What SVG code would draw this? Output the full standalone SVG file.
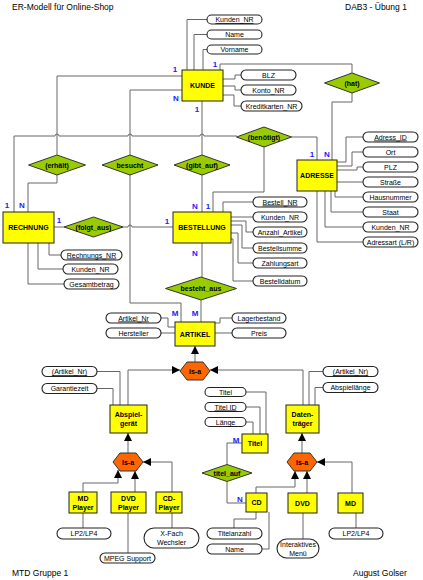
<svg xmlns="http://www.w3.org/2000/svg" width="423" height="580" viewBox="0 0 423 580">
<style>
text{font-family:"Liberation Sans",Arial,sans-serif;font-size:7px;fill:#000;text-anchor:middle}
.hd{font-size:8.5px;text-anchor:start}
.b{font-weight:bold}
.u{text-decoration:underline}
.card{font-weight:bold;font-size:8px;fill:#1a1aff}
.ent{fill:#ffff00;stroke:#222;stroke-width:1}
.rel{fill:#99cc00;stroke:#333;stroke-width:1}
.isa{fill:#ff6600;stroke:#333;stroke-width:1}
.att{fill:#fff;stroke:#222;stroke-width:1.1}
#connectors path{fill:none;stroke:#666;stroke-width:1}
</style>
<defs>
<marker id="ar" markerUnits="userSpaceOnUse" markerWidth="8" markerHeight="8" refX="8" refY="4" orient="auto"><path d="M0,0L8,4L0,8z" fill="#000"/></marker>
</defs>
<rect width="423" height="580" fill="#fff"/>
<text class="hd" x="12" y="10">ER-Modell für Online-Shop</text>
<text class="hd" x="345" y="10">DAB3 - Übung 1</text>
<text class="hd" x="12" y="576">MTD Gruppe 1</text>
<text class="hd" x="353" y="576">August Golser</text>

<g id="connectors">
<path d="M182,76H57V155"/>
<path d="M182,90H130V155"/>
<path d="M202,101V155"/>
<path d="M220,70V64H352V73"/>
<path d="M352,93V102H332V160"/>
<path d="M14,212V136H55a2,2 0 0 1 4,0H128a2,2 0 0 1 4,0H200a2,2 0 0 1 4,0H237"/>
<path d="M291,137H317V160"/>
<path d="M264,147V192H213V212"/>
<path d="M57,175V183H28V212"/>
<path d="M54,227H64"/>
<path d="M123,227H128a2,2 0 0 1 4,0H173"/>
<path d="M130,175V303H181V322"/>
<path d="M202,175V212"/>
<path d="M202,243V277"/>
<path d="M201,300V322"/>
<path d="M227,465V443H242"/>
<path d="M227,482V503H246"/>
<path d="M195,362V346" marker-end="url(#ar)"/>
<path d="M128,405V370H180" marker-end="url(#ar)"/>
<path d="M303,405V370H210" marker-end="url(#ar)"/>
<path d="M128,453V433" marker-end="url(#ar)"/>
<path d="M302,453V433" marker-end="url(#ar)"/>
<path d="M83,492V483H118V470" marker-end="url(#ar)"/>
<path d="M135,492V471" marker-end="url(#ar)"/>
<path d="M172,492V462H143" marker-end="url(#ar)"/>
<path d="M256,493V487H295V471" marker-end="url(#ar)"/>
<path d="M307,493V471" marker-end="url(#ar)"/>
<path d="M352,493V462H317" marker-end="url(#ar)"/>
<path d="M207,19.5H187V70"/>
<path d="M207,34.5H194V70"/>
<path d="M207,49.5H203V70"/>
<path d="M223,79H235V75H241"/>
<path d="M223,86H235V90H241"/>
<path d="M223,95H234V106H241"/>
<path d="M49,243V255H61"/>
<path d="M38,243V269H63"/>
<path d="M28,243V284H64"/>
<path d="M223,212V202H253"/>
<path d="M231,217H253"/>
<path d="M231,221H246V232H253"/>
<path d="M231,225H242V248H253"/>
<path d="M231,233H238V263H253"/>
<path d="M231,239H233V281H253"/>
<path d="M337,162H346V137H363"/>
<path d="M337,166H352V152H363"/>
<path d="M337,170H357V167H363"/>
<path d="M337,182H363"/>
<path d="M335,191V197H363"/>
<path d="M331,191V212H363"/>
<path d="M325,191V227H363"/>
<path d="M317,191V242H363"/>
<path d="M161,318H168V327H175"/>
<path d="M161,333H175"/>
<path d="M215,323H220V318H232"/>
<path d="M215,333H232"/>
<path d="M97,371.5H120V405"/>
<path d="M97,388.5H113V405"/>
<path d="M323,371.5H309V405"/>
<path d="M323,387.5H315V405"/>
<path d="M246,392H266V434"/>
<path d="M246,407H260V434"/>
<path d="M246,422H253V434"/>
<path d="M83,513V528"/>
<path d="M128,513V553"/>
<path d="M172,513V528"/>
<path d="M256,512V519H234V528"/>
<path d="M262,549H269V512"/>
<path d="M303,513V539"/>
<path d="M356,513V528"/>
</g>

<g id="cardinalities">
<text class="card" x="175" y="72">1</text>
<text class="card" x="215" y="67">1</text>
<text class="card" x="176" y="101">N</text>
<text class="card" x="197" y="112">1</text>
<text class="card" x="7" y="208">1</text>
<text class="card" x="22" y="208">N</text>
<text class="card" x="59" y="223">1</text>
<text class="card" x="167" y="224">1</text>
<text class="card" x="195" y="209">N</text>
<text class="card" x="208" y="209">1</text>
<text class="card" x="195" y="256">N</text>
<text class="card" x="312" y="157">1</text>
<text class="card" x="327" y="157">N</text>
<text class="card" x="175" y="316">M</text>
<text class="card" x="195" y="316">M</text>
<text class="card" x="236" y="443">M</text>
<text class="card" x="240" y="502">N</text>
</g>

<g id="kunde"><rect class="ent" x="182" y="70" width="41" height="31"/><text class="b" x="202.5" y="88">KUNDE</text></g>
<g id="rechnung"><rect class="ent" x="3" y="212" width="51" height="31"/><text class="b" x="28.5" y="230">RECHNUNG</text></g>
<g id="bestellung"><rect class="ent" x="173" y="212" width="58" height="31"/><text class="b" x="202" y="230">BESTELLUNG</text></g>
<g id="adresse"><rect class="ent" x="297" y="160" width="40" height="31"/><text class="b" x="317" y="178">ADRESSE</text></g>
<g id="artikel"><rect class="ent" x="175" y="322" width="40" height="24"/><text class="b" x="195" y="336.5">ARTIKEL</text></g>
<g id="abspielgeraet"><rect class="ent" x="110" y="405" width="37" height="28"/><text class="b" x="128.5" y="417">Abspiel-</text><text class="b" x="128.5" y="426">gerät</text></g>
<g id="datentraeger"><rect class="ent" x="286" y="405" width="33" height="28"/><text class="b" x="302.5" y="417">Daten-</text><text class="b" x="302.5" y="426">träger</text></g>
<g id="titel"><rect class="ent" x="242" y="434" width="26" height="19"/><text class="b" x="255" y="446">Titel</text></g>
<g id="mdplayer"><rect class="ent" x="69" y="492" width="28" height="21"/><text class="b" x="83" y="500.5">MD</text><text class="b" x="83" y="509.5">Player</text></g>
<g id="dvdplayer"><rect class="ent" x="111" y="492" width="35" height="21"/><text class="b" x="128.5" y="500.5">DVD</text><text class="b" x="128.5" y="509.5">Player</text></g>
<g id="cdplayer"><rect class="ent" x="156" y="492" width="26" height="21"/><text class="b" x="169" y="500.5">CD-</text><text class="b" x="169" y="509.5">Player</text></g>
<g id="cd"><rect class="ent" x="246" y="493" width="21" height="19"/><text class="b" x="256.5" y="505">CD</text></g>
<g id="dvd"><rect class="ent" x="288" y="493" width="29" height="20"/><text class="b" x="302.5" y="505.5">DVD</text></g>
<g id="md"><rect class="ent" x="338" y="493" width="25" height="20"/><text class="b" x="350.5" y="505.5">MD</text></g>

<g id="hat"><polygon class="rel" points="324.5,83 352,73 379.5,83 352,93"/><text class="b" x="352" y="85.5">(hat)</text></g>
<g id="benoetigt"><polygon class="rel" points="236.5,137 264,127 291.5,137 264,147"/><text class="b" x="264" y="139.5">(benötigt)</text></g>
<g id="erhaelt"><polygon class="rel" points="28.5,165 57,155 85.5,165 57,175"/><text class="b" x="57" y="167.5">(erhält)</text></g>
<g id="besucht"><polygon class="rel" points="102,165 130,155 158,165 130,175"/><text class="b" x="130" y="167.5">besucht</text></g>
<g id="gibt_auf"><polygon class="rel" points="174,165 202,155 230,165 202,175"/><text class="b" x="202" y="167.5">(gibt_auf)</text></g>
<g id="folgt_aus"><polygon class="rel" points="64,227 93.5,217 123,227 93.5,237"/><text class="b" x="93.5" y="229.5">(folgt_aus)</text></g>
<g id="besteht_aus"><polygon class="rel" points="165.5,288.5 201,277 236.5,288.5 201,300"/><text class="b" x="201" y="291">besteht_aus</text></g>
<g id="titel_auf"><polygon class="rel" points="202,473 227,464.5 252,473 227,481.5"/><text class="b" x="227" y="475.5">titel_auf</text></g>

<g id="isa_artikel"><polygon class="isa" points="180,371 187,362 203,362 210,371 203,380 187,380"/><text class="b" x="195" y="373.5">Is-a</text></g>
<g id="isa_abspiel"><polygon class="isa" points="113,462 120,453 136,453 143,462 136,471 120,471"/><text class="b" x="128" y="464.5">Is-a</text></g>
<g id="isa_daten"><polygon class="isa" points="287,462 294,453 310,453 317,462 310,471 294,471"/><text class="b" x="302" y="464.5">Is-a</text></g>

<g id="a_kunden_nr"><rect class="att" x="207" y="15" width="55" height="9" rx="4.5"/><text class="u" x="234.5" y="22">Kunden_NR</text></g>
<g id="a_name"><rect class="att" x="207" y="30" width="55" height="9" rx="4.5"/><text x="234.5" y="37">Name</text></g>
<g id="a_vorname"><rect class="att" x="207" y="45" width="55" height="9" rx="4.5"/><text x="234.5" y="52">Vorname</text></g>
<g id="a_blz"><rect class="att" x="241" y="70" width="55" height="10" rx="5"/><text x="268.5" y="77.5">BLZ</text></g>
<g id="a_konto"><rect class="att" x="241" y="85" width="55" height="10" rx="5"/><text x="268.5" y="92.5">Konto_NR</text></g>
<g id="a_kredit"><rect class="att" x="241" y="101" width="61" height="10" rx="5"/><text x="271.5" y="108.5">Kreditkarten_NR</text></g>
<g id="a_rechnungs_nr"><rect class="att" x="61" y="250" width="61" height="10" rx="5"/><text class="u" x="91.5" y="257.5">Rechnungs_NR</text></g>
<g id="a_r_kunden_nr"><rect class="att" x="63" y="264" width="55" height="10" rx="5"/><text x="90.5" y="271.5">Kunden_NR</text></g>
<g id="a_gesamt"><rect class="att" x="64" y="279" width="55" height="10" rx="5"/><text x="91.5" y="286.5">Gesamtbetrag</text></g>
<g id="a_bestell_nr"><rect class="att" x="253" y="197" width="54" height="10" rx="5"/><text class="u" x="280" y="204.5">Bestell_NR</text></g>
<g id="a_b_kunden_nr"><rect class="att" x="253" y="212" width="54" height="10" rx="5"/><text x="280" y="219.5">Kunden_NR</text></g>
<g id="a_anzahl"><rect class="att" x="253" y="227" width="54" height="10" rx="5"/><text x="280" y="234.5">Anzahl_Artikel</text></g>
<g id="a_summe"><rect class="att" x="253" y="243" width="54" height="10" rx="5"/><text x="280" y="250.5">Bestellsumme</text></g>
<g id="a_zahlung"><rect class="att" x="253" y="258" width="54" height="10" rx="5"/><text x="280" y="265.5">Zahlungsart</text></g>
<g id="a_datum"><rect class="att" x="253" y="276" width="54" height="10" rx="5"/><text x="280" y="283.5">Bestelldatum</text></g>
<g id="a_adress_id"><rect class="att" x="363" y="132" width="55" height="10" rx="5"/><text class="u" x="390.5" y="139.5">Adress_ID</text></g>
<g id="a_ort"><rect class="att" x="363" y="147" width="55" height="10" rx="5"/><text x="390.5" y="154.5">Ort</text></g>
<g id="a_plz"><rect class="att" x="363" y="162" width="55" height="10" rx="5"/><text x="390.5" y="169.5">PLZ</text></g>
<g id="a_strasse"><rect class="att" x="363" y="177" width="55" height="10" rx="5"/><text x="390.5" y="184.5">Straße</text></g>
<g id="a_haus"><rect class="att" x="363" y="192" width="55" height="10" rx="5"/><text x="390.5" y="199.5">Hausnummer</text></g>
<g id="a_staat"><rect class="att" x="363" y="207" width="55" height="10" rx="5"/><text x="390.5" y="214.5">Staat</text></g>
<g id="a_a_kunden_nr"><rect class="att" x="363" y="222" width="55" height="10" rx="5"/><text x="390.5" y="229.5">Kunden_NR</text></g>
<g id="a_adressart"><rect class="att" x="363" y="237" width="55" height="10" rx="5"/><text x="390.5" y="244.5">Adressart (L/R)</text></g>
<g id="a_artikel_nr"><rect class="att" x="106" y="313" width="55" height="10" rx="5"/><text class="u" x="133.5" y="320.5">Artikel_Nr</text></g>
<g id="a_hersteller"><rect class="att" x="106" y="328" width="55" height="10" rx="5"/><text x="133.5" y="335.5">Hersteller</text></g>
<g id="a_lager"><rect class="att" x="232" y="313" width="54" height="10" rx="5"/><text x="259" y="320.5">Lagerbestand</text></g>
<g id="a_preis"><rect class="att" x="232" y="328" width="54" height="10" rx="5"/><text x="259" y="335.5">Preis</text></g>
<g id="a_ab_artikel_nr"><rect class="att" x="42" y="366.5" width="55" height="10" rx="5"/><text class="u" x="69.5" y="374">(Artikel_Nr)</text></g>
<g id="a_garantie"><rect class="att" x="42" y="383.5" width="55" height="10" rx="5"/><text x="69.5" y="391">Garantiezeit</text></g>
<g id="a_dt_artikel_nr"><rect class="att" x="323" y="366.5" width="55" height="10" rx="5"/><text class="u" x="350.5" y="374">(Artikel_Nr)</text></g>
<g id="a_abspiellaenge"><rect class="att" x="323" y="382.5" width="55" height="10" rx="5"/><text x="350.5" y="390">Abspiellänge</text></g>
<g id="a_titel"><rect class="att" x="205" y="387.5" width="41" height="9" rx="4.5"/><text x="225.5" y="394.5">Titel</text></g>
<g id="a_titel_id"><rect class="att" x="205" y="402.5" width="41" height="9" rx="4.5"/><text class="u" x="225.5" y="409.5">Titel ID</text></g>
<g id="a_laenge"><rect class="att" x="205" y="417.5" width="41" height="9" rx="4.5"/><text x="225.5" y="424.5">Länge</text></g>
<g id="a_lp_left"><rect class="att" x="57" y="528" width="54" height="11" rx="5.5"/><text x="84" y="536">LP2/LP4</text></g>
<g id="a_xfach"><rect class="att" x="144" y="528" width="55" height="20" rx="10"/><text x="171.5" y="536">X-Fach</text><text x="171.5" y="545">Wechsler</text></g>
<g id="a_mpeg"><rect class="att" x="100" y="553" width="55" height="10" rx="5"/><text x="127.5" y="560.5">MPEG Support</text></g>
<g id="a_titelanzahl"><rect class="att" x="207" y="528" width="55" height="11" rx="5.5"/><text x="234.5" y="536">Titelanzahl</text></g>
<g id="a_cd_name"><rect class="att" x="207" y="544" width="55" height="10" rx="5"/><text x="234.5" y="551.5">Name</text></g>
<g id="a_menue"><rect class="att" x="277" y="539" width="42" height="19" rx="9.5"/><text x="298" y="547">Interaktives</text><text x="298" y="555.5">Menü</text></g>
<g id="a_lp_right"><rect class="att" x="329" y="528" width="54" height="11" rx="5.5"/><text x="356" y="536">LP2/LP4</text></g>
</svg>
